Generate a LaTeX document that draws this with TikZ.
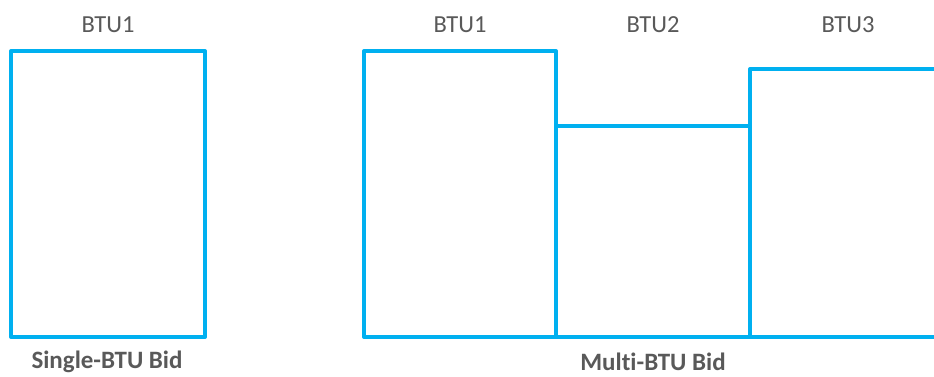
\documentclass[tikz,border=0pt]{standalone}
\usepackage{fontspec}
\setmainfont[Ligatures=NoCommon]{Carlito}
\definecolor{btublue}{HTML}{00B0F0}
\definecolor{labgray}{HTML}{595959}
\begin{document}
\begin{tikzpicture}[x=1pt,y=-1pt,
  bar/.style={draw=btublue,line width=4pt,line join=round,line cap=butt},
  lab/.style={text=labgray,font=\fontsize{24.5}{28}\selectfont,inner sep=0pt,anchor=center},
  caplabel/.style={lab,font=\fontsize{25}{28}\selectfont\bfseries}]
\useasboundingbox (0,0) rectangle (934,376);
% single
\coordinate (s1) at (11,51);
\coordinate (s2) at (205,337);
\draw[bar] (s1) rectangle (s2);
\node[lab] (sl) at (108,25) {BTU1};
\node[caplabel] (sc) at (107,362) {Single-BTU Bid};
% multi
\coordinate (m0) at (364,337);
\coordinate (m1) at (364,51);
\coordinate (m2) at (556,51);
\coordinate (m3) at (556,126);
\coordinate (m4) at (750,126);
\coordinate (m5) at (750,69);
\coordinate (m6) at (940,69);
\coordinate (m7) at (940,337);
\draw[bar] (m7) -- (m0) -- (m1) -- (m2) -- (m3) -- (m4) -- (m5) -- (m6);
\draw[bar] (m2) -- (556,337);
\draw[bar] (m5) -- (750,337);
\node[lab] (b1) at (460,25) {BTU1};
\node[lab] (b2) at (653,25) {BTU2};
\node[lab] (b3) at (848,25) {BTU3};
\node[caplabel] (mc) at (653,362) {Multi-BTU Bid};
\end{tikzpicture}
\end{document}
